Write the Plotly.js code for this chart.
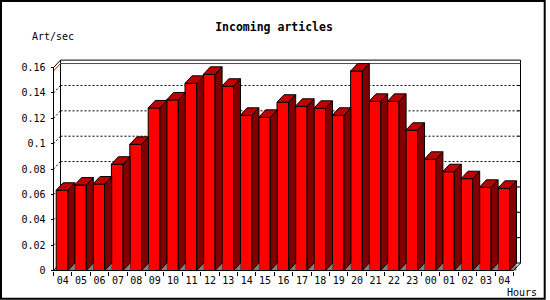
<!DOCTYPE html>
<html>
<head>
<meta charset="utf-8">
<script src="https://cdn.plot.ly/plotly-3.0.1.min.js"></script>
<style>html,body{margin:0;padding:0;background:#fff;}#chart{width:550px;height:300px;}</style>
</head>
<body>
<div id="chart"></div>
<script>
// ---- data ----
const hours = ['04','05','06','07','08','09','10','11','12','13','14','15','16','17','18','19','20','21','22','23','00','01','02','03','04'];
const rates = [0.0633,0.0674,0.0682,0.0838,0.0995,0.1282,0.1345,0.1476,0.1547,0.1453,0.1224,0.1208,0.1327,0.1295,0.1279,0.1224,0.1573,0.1334,0.1334,0.1106,0.0877,0.0779,0.0724,0.0656,0.0648];
const yTickVals = [0,0.02,0.04,0.06,0.08,0.1,0.12,0.14,0.16];
const yTickText = ['0','0.02','0.04','0.06','0.08','0.1','0.12','0.14','0.16'];
const titleText = 'Incoming articles';
const yUnitText = 'Art/sec';
const xUnitText = 'Hours';

// ---- geometry (pixels of the 550x300 picture) ----
const W = 550, H = 300;
const L = 47, R = 529, T = 57, B = 275;       // plot area edges
const X0PX = 53.5, PITCH = 18.4;              // front x=0 and px per category
const Y0PX = 270.5, PXV = 1268;               // front y=0 and px per unit
const DXPX = 7, DYPX = 7.5;                   // 3D depth
const DX = DXPX / PITCH, DY = DYPX / PXV;
const FRONT_OFF = 2.7 / PITCH, FRONT_W = 11.7 / PITCH;
const N = hours.length;
const XFRONT = N, XBACK = N + DX;
const xr = [(L - X0PX) / PITCH, (R - X0PX) / PITCH];
const yr = [(Y0PX - B) / PXV, (Y0PX - T) / PXV];
const pw = R - L, ph = B - T;
const px2paperX = p => (p - L) / pw;
const px2paperY = p => (B - p) / ph;
const TOP = yTickVals[yTickVals.length - 1];
const vmax = Math.max(...rates);
const mono = 'DejaVu Sans Mono, monospace';

// ---- 3D faces ----
const sideX = [], sideY = [], topX = [], topY = [], triX = [], triY = [];
const idx = rates.map((_, i) => i);
rates.forEach((v, i) => {
  const x0 = i + FRONT_OFF, x1 = x0 + FRONT_W;
  sideX.push(x1, x1 + DX, x1 + DX, x1, x1, null);
  sideY.push(0, DY, v + DY, v, 0, null);
  topX.push(x0, x0 + DX, x1 + DX, x1, x0, null);
  topY.push(v, v + DY, v + DY, v, v, null);
  triX.push(x1, x1 + DX, x1 + DX, x1, null);
  triY.push(0, DY, 0, 0, null);
});

const traces = [
  {type: 'bar', x: idx, y: rates, offset: FRONT_OFF, width: FRONT_W,
   marker: {color: '#ff0000', line: {color: '#000', width: 1}}, hoverinfo: 'skip'},
  {type: 'scatter', mode: 'lines', x: triX, y: triY, fill: 'toself', fillcolor: '#808080',
   line: {width: 0}, hoverinfo: 'skip'},
  {type: 'scatter', mode: 'lines', x: sideX, y: sideY, fill: 'toself', fillcolor: '#800000',
   line: {color: '#000', width: 1}, hoverinfo: 'skip'},
  {type: 'scatter', mode: 'lines', x: topX, y: topY, fill: 'toself', fillcolor: '#c00000',
   line: {color: '#000', width: 1}, hoverinfo: 'skip'},
  // invisible trace to activate the boundary-tick axis
  {type: 'scatter', mode: 'lines', x: [0, N], y: [0, 0], xaxis: 'x2', yaxis: 'y',
   line: {width: 0}, hoverinfo: 'skip', showlegend: false}
];

// ---- frame, grid, max line ----
const shapes = [];
const ln = (x0, y0, x1, y1, color, dash, layer, width) => shapes.push({
  type: 'line', xref: 'x', yref: 'y', x0, y0, x1, y1, layer: layer || 'below',
  line: {color: color || '#000', width: width || 1, dash: dash || 'solid'}});
yTickVals.forEach(v => {
  if (v > 0 && v < TOP) {
    ln(0, v, DX, v + DY, '#000', '2px,2px');
    ln(DX, v + DY, XBACK, v + DY, '#000', '2px,2px');
    ln(XBACK - 3 / PITCH, v + DY, XBACK, v + DY);
  }
});
// back wall
ln(DX, DY, DX, TOP + DY);
ln(DX, TOP + DY, XBACK, TOP + DY);
ln(XBACK, DY, XBACK, TOP + DY);
ln(DX, DY, XBACK, DY);
ln(0, TOP, DX, TOP + DY);
ln(0, 0, DX, DY);
// max line
ln(0, vmax, DX, vmax + DY, '#ff0000');
ln(DX, vmax + DY, XBACK, vmax + DY, '#ff0000');
// front axes
ln(0, 0, 0, TOP, '#000', 'solid', 'above');
ln(0, 0, XFRONT, 0, '#000', 'solid', 'above');
ln(XFRONT, 0, XBACK, DY, '#000', 'solid', 'above');
// outer border
shapes.push({type: 'rect', xref: 'paper', yref: 'paper', layer: 'above',
  x0: px2paperX(1), x1: px2paperX(544.7), y0: px2paperY(298.7), y1: px2paperY(1),
  line: {color: '#000', width: 2}});

const tickFont = {family: mono, size: 10, color: '#000'};
const layout = {
  width: W, height: H,
  margin: {l: L, r: W - R, t: T, b: H - B, pad: 0},
  paper_bgcolor: '#fff', plot_bgcolor: 'rgba(0,0,0,0)',
  showlegend: false, bargap: 0,
  title: {text: '<b>' + titleText + '</b>', x: 274 / W, xref: 'container', xanchor: 'center',
    y: 1 - 26.7 / H, yref: 'container', yanchor: 'middle',
    font: {family: mono, size: 11.5, color: '#000'}},
  xaxis: {range: xr, anchor: 'free', position: px2paperY(Y0PX), showgrid: false, zeroline: false,
    showline: false, tickmode: 'array', tickvals: hours.map((_, i) => i + 0.5),
    ticktext: hours, ticks: '', tickangle: 0, ticklabelstandoff: 2, tickfont: tickFont},
  xaxis2: {range: xr, overlaying: 'x', anchor: 'free', position: px2paperY(Y0PX), side: 'bottom',
    showgrid: false, zeroline: false, showline: false, showticklabels: false,
    tickmode: 'linear', tick0: 0, dtick: 1, ticks: 'outside', ticklen: 4, tickcolor: '#000', tickwidth: 1},
  yaxis: {range: yr, anchor: 'free', position: px2paperX(X0PX), showgrid: false, zeroline: false,
    showline: false, tickmode: 'array', tickvals: yTickVals, ticktext: yTickText,
    ticks: 'outside', ticklen: 3, tickcolor: '#000', tickwidth: 1, ticklabelstandoff: 3,
    tickfont: tickFont},
  shapes: shapes,
  annotations: [
    {text: yUnitText, xref: 'paper', yref: 'paper', x: px2paperX(30), y: px2paperY(36.7),
     xanchor: 'left', yanchor: 'middle', showarrow: false, font: tickFont},
    {text: xUnitText, xref: 'paper', yref: 'paper', x: px2paperX(505), y: px2paperY(292.3),
     xanchor: 'left', yanchor: 'middle', showarrow: false, font: tickFont}
  ]
};

Plotly.newPlot('chart', traces, layout, {staticPlot: true, displayModeBar: false});
</script>
</body>
</html>
